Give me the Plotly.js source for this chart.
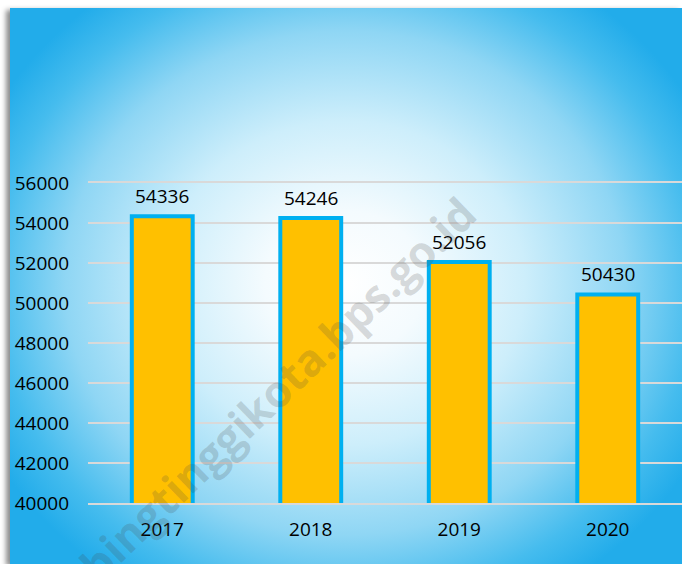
<!DOCTYPE html>
<html>
<head>
<meta charset="utf-8">
<script src="https://cdn.plot.ly/plotly-3.0.1.min.js"></script>
<style>
  html, body { margin: 0; padding: 0; background: #ffffff; }
  #wrap { position: relative; width: 682px; height: 564px; overflow: hidden; background: #ffffff; }
  #bg { position: absolute; left: 10px; top: 8px; width: 672px; height: 556px;
        background: radial-gradient(ellipse 400px 360px at 335px 275px, #ffffff 0%, #f4fbfe 20%, #cdeefb 45%, #8fd6f4 70%, #45bcee 88%, #22acea 100%);
        box-shadow: -4px 2px 5px rgba(0,0,0,0.45); }
  #chart { position: absolute; left: 0; top: 0; width: 682px; height: 564px; }
</style>
</head>
<body>
<div id="wrap">
  <div id="bg"></div>
  <div id="chart"></div>
</div>
<script>
const years = ["2017", "2018", "2019", "2020"];
const values = [54336, 54246, 52056, 50430];
const yTicks = [40000, 42000, 44000, 46000, 48000, 50000, 52000, 54000, 56000];

const FONT = "Open Sans, Noto Sans, sans-serif";

const trace = {
  type: "bar",
  x: years,
  y: values,
  width: 0.41,
  marker: { color: "#FFC000", line: { color: "#00B0F0", width: 4 } },
  hoverinfo: "none"
};

const annotations = years.map((yr, i) => ({
  x: i, y: values[i], xref: "x", yref: "y",
  text: String(values[i]), showarrow: false,
  xanchor: "center", yanchor: "bottom", yshift: 5,
  font: { family: FONT, size: 19, color: "#000000" }
}));

annotations.push({
  xref: "paper", yref: "paper", x: 0.292, y: 0.31,
  xanchor: "center", yanchor: "middle",
  text: "tebingtinggikota.bps.go.id", showarrow: false,
  textangle: -44,
  font: { family: FONT, size: 44, color: "rgba(70,70,70,0.2)", weight: "bold" }
});

const layout = {
  width: 682, height: 564,
  margin: { l: 88, r: 0, t: 183, b: 61 },
  paper_bgcolor: "rgba(0,0,0,0)",
  plot_bgcolor: "rgba(0,0,0,0)",
  showlegend: false,
  font: { family: FONT, size: 19, color: "#000000" },
  xaxis: {
    type: "category",
    range: [-0.5, 3.5],
    showgrid: false, zeroline: false,
    showline: true, mirror: true, linecolor: "#d9d9d9", linewidth: 2,
    layer: "below traces",
    ticks: "", ticklabelstandoff: 8,
    tickfont: { family: FONT, size: 19, color: "#000000" }
  },
  yaxis: {
    range: [40000, 56000],
    tickvals: yTicks,
    ticktext: yTicks.map(String),
    showgrid: true, gridcolor: "#d9d9d9", gridwidth: 2,
    zeroline: false, showline: false,
    layer: "below traces",
    ticks: "", ticklabelstandoff: 18,
    tickfont: { family: FONT, size: 19, color: "#000000" }
  },
  annotations: annotations
};

Plotly.newPlot("chart", [trace], layout, { staticPlot: true, displayModeBar: false });
</script>
</body>
</html>
